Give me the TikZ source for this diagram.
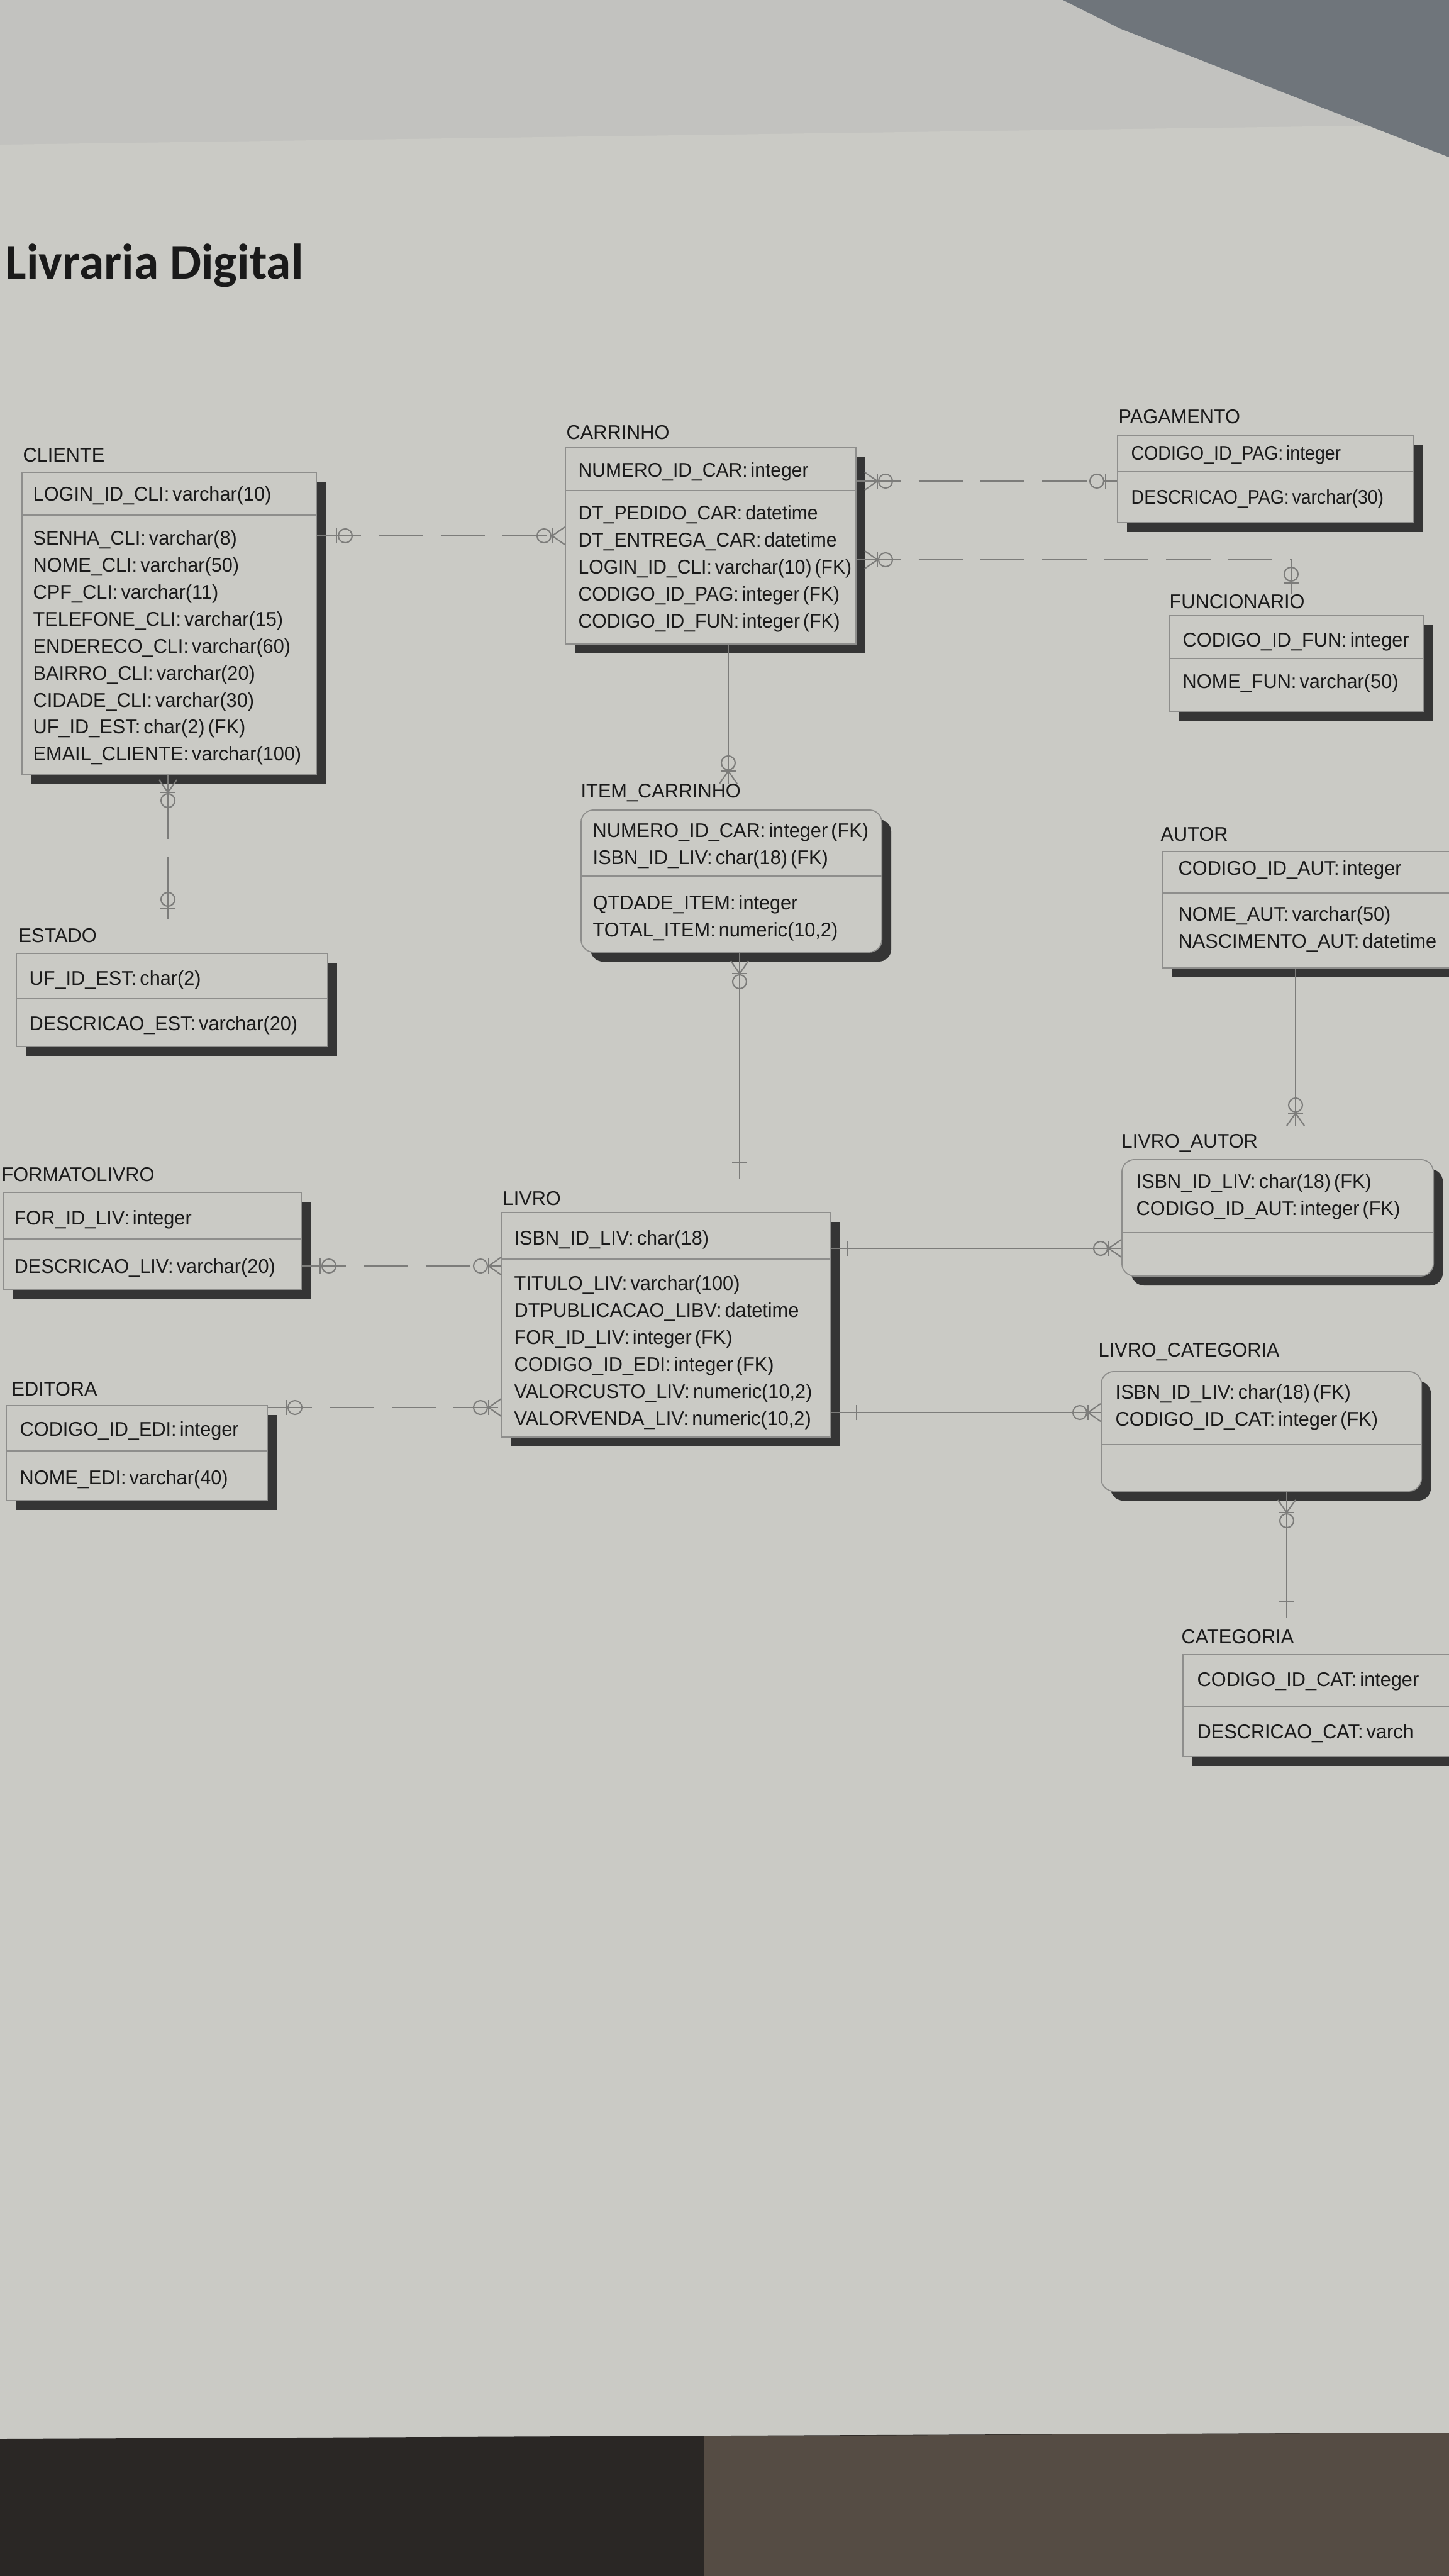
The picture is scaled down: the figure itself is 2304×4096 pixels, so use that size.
\documentclass[tikz,border=0pt]{standalone}
\usepackage{fontspec}
\setmainfont{Liberation Sans}
\newfontfamily\erfont[WordSpace=0.6,FakeStretch=0.97]{Liberation Sans}
\newfontfamily\erfontc[WordSpace=0.6,FakeStretch=0.95]{Liberation Sans}
\newfontfamily\erfontp[WordSpace=0.6,FakeStretch=0.9]{Liberation Sans}
\newfontfamily\titlefont{Carlito}
\usetikzlibrary{shadows}
\definecolor{paper}{HTML}{CACAC5}
\definecolor{wall}{HTML}{C2C2BF}
\definecolor{shd}{HTML}{353535}
\definecolor{edgec}{HTML}{8E8E8C}
\definecolor{ink}{HTML}{1A1A1A}
\definecolor{relc}{HTML}{7C7C7A}
\definecolor{floorA}{HTML}{2A2725}
\definecolor{floorB}{HTML}{554C44}
\definecolor{laptop}{HTML}{6F757B}
\begin{document}
\begin{tikzpicture}[x=0.01cm,y=-0.01cm,
  ebox/.style={draw=edgec, line width=0.5pt, fill=paper, inner sep=0pt, anchor=north west,
    drop shadow={shadow xshift=0.15cm, shadow yshift=-0.15cm, fill=shd, opacity=1}},
  rbox/.style={ebox, rounded corners=0.2cm},
  etxt/.style={inner sep=0pt, anchor=north west, align=left, text=ink, font=\erfont\fontsize{9}{12.2}\selectfont},
  etxtc/.style={etxt, font=\erfontc\fontsize{9}{12.2}\selectfont},
  etxtp/.style={etxt, font=\erfontp\fontsize{9}{12.2}\selectfont},
  sepl/.style={draw=edgec, line width=0.5pt},
  relsolid/.style={draw=relc, line width=0.6pt},
  reldash/.style={relsolid, dash pattern=on 20pt off 8pt},
  sym/.style={draw=relc, line width=0.6pt},
  pics/zmany/.style={code={
    \draw[sym] (0,14) -- (20,0) -- (0,-14);
    \draw[sym] (20,12) -- (20,-12);
    \draw[sym] (33,0) circle[radius=11];
  }},
  pics/zone/.style={code={
    \draw[sym] (18,12) -- (18,-12);
    \draw[sym] (32,0) circle[radius=11];
  }},
  pics/onebar/.style={code={\draw[sym] (#1,12) -- (#1,-12);}}
]
\useasboundingbox (0,0) rectangle (2304,4096);
\clip (0,0) rectangle (2304,4096);
% background: photo of the printed page
\fill[wall] (0,0) rectangle (2304,4096);
\fill[paper] (0,230) -- (2304,198) -- (2304,3868) -- (0,3878) -- cycle;
\fill[laptop] (1690,0) -- (2304,0) -- (2304,250) -- (1780,45) -- cycle;
\fill[floorA] (0,3878) -- (2304,3868) -- (2304,4096) -- (0,4096) -- cycle;
\fill[floorB] (1120,3874) -- (2304,3868) -- (2304,4096) -- (1120,4096) -- cycle;

% title
\node[anchor=base west, inner sep=0pt, text=ink, font=\titlefont\bfseries\fontsize{22.6}{26}\selectfont] (title) at (8,443) {Livraria Digital};

% ---------- CLIENTE
\node[etxt] (cli-l) at (36,712) {CLIENTE};
\node[ebox, minimum width=4.68cm, minimum height=4.80cm] (cli) at (34,750) {};
\draw[sepl] (cli.west |- 0,819) -- (cli.east |- 0,819);
\node[etxt] (cli-pk) at (52,773) {LOGIN\_ID\_CLI: varchar(10)};
\node[etxt] (cli-at) at (52,843) {SENHA\_CLI: varchar(8)\\NOME\_CLI: varchar(50)\\CPF\_CLI: varchar(11)\\TELEFONE\_CLI: varchar(15)\\ENDERECO\_CLI: varchar(60)\\BAIRRO\_CLI: varchar(20)\\CIDADE\_CLI: varchar(30)\\UF\_ID\_EST: char(2) (FK)\\EMAIL\_CLIENTE: varchar(100)};

% ---------- CARRINHO
\node[etxt] (car-l) at (900,676) {CARRINHO};
\node[ebox, minimum width=4.62cm, minimum height=3.13cm] (car) at (898,710) {};
\draw[sepl] (car.west |- 0,780) -- (car.east |- 0,780);
\node[etxtc] (car-pk) at (919,735) {NUMERO\_ID\_CAR: integer};
\node[etxtc] (car-at) at (919,803) {DT\_PEDIDO\_CAR: datetime\\DT\_ENTREGA\_CAR: datetime\\LOGIN\_ID\_CLI: varchar(10) (FK)\\CODIGO\_ID\_PAG: integer (FK)\\CODIGO\_ID\_FUN: integer (FK)};

% ---------- PAGAMENTO
\node[etxt] (pag-l) at (1778,651) {PAGAMENTO};
\node[ebox, minimum width=4.71cm, minimum height=1.38cm] (pag) at (1776,692) {};
\draw[sepl] (pag.west |- 0,750) -- (pag.east |- 0,750);
\node[etxtp] (pag-pk) at (1798,708) {CODIGO\_ID\_PAG: integer};
\node[etxtp] (pag-at) at (1798,778) {DESCRICAO\_PAG: varchar(30)};

% ---------- FUNCIONARIO
\node[etxt] (fun-l) at (1859,945) {FUNCIONARIO};
\node[ebox, minimum width=4.03cm, minimum height=1.52cm] (fun) at (1859,978) {};
\draw[sepl] (fun.west |- 0,1047) -- (fun.east |- 0,1047);
\node[etxt] (fun-pk) at (1880,1005) {CODIGO\_ID\_FUN: integer};
\node[etxt] (fun-at) at (1880,1071) {NOME\_FUN: varchar(50)};

% ---------- ITEM_CARRINHO
\node[etxt] (item-l) at (923,1246) {ITEM\_CARRINHO};
\node[rbox, minimum width=4.78cm, minimum height=2.26cm] (item) at (923,1287) {};
\draw[sepl] (item.west |- 0,1393) -- (item.east |- 0,1393);
\node[etxt] (item-pk) at (942,1308) {NUMERO\_ID\_CAR: integer (FK)\\ISBN\_ID\_LIV: char(18) (FK)};
\node[etxt] (item-at) at (942,1423) {QTDADE\_ITEM: integer\\TOTAL\_ITEM: numeric(10,2)};

% ---------- AUTOR
\node[etxt] (aut-l) at (1845,1315) {AUTOR};
\node[ebox, minimum width=5.13cm, minimum height=1.85cm] (aut) at (1847,1353) {};
\draw[sepl] (aut.west |- 0,1420) -- (aut.east |- 0,1420);
\node[etxt] (aut-pk) at (1873,1368) {CODIGO\_ID\_AUT: integer};
\node[etxt] (aut-at) at (1873,1441) {NOME\_AUT: varchar(50)\\NASCIMENTO\_AUT: datetime};

% ---------- ESTADO
\node[etxt] (est-l) at (29,1476) {ESTADO};
\node[ebox, minimum width=4.95cm, minimum height=1.48cm] (est) at (25,1515) {};
\draw[sepl] (est.west |- 0,1588) -- (est.east |- 0,1588);
\node[etxt] (est-pk) at (46,1543) {UF\_ID\_EST: char(2)};
\node[etxt] (est-at) at (46,1615) {DESCRICAO\_EST: varchar(20)};

% ---------- FORMATOLIVRO
\node[etxt] (fmt-l) at (2,1856) {FORMATOLIVRO};
\node[ebox, minimum width=4.74cm, minimum height=1.54cm] (fmt) at (4,1895) {};
\draw[sepl] (fmt.west |- 0,1970) -- (fmt.east |- 0,1970);
\node[etxt] (fmt-pk) at (22,1924) {FOR\_ID\_LIV: integer};
\node[etxt] (fmt-at) at (22,2001) {DESCRICAO\_LIV: varchar(20)};

% ---------- LIVRO
\node[etxt] (liv-l) at (799,1894) {LIVRO};
\node[ebox, minimum width=5.23cm, minimum height=3.57cm] (liv) at (797,1927) {};
\draw[sepl] (liv.west |- 0,2002) -- (liv.east |- 0,2002);
\node[etxt] (liv-pk) at (817,1956) {ISBN\_ID\_LIV: char(18)};
\node[etxt] (liv-at) at (817,2028) {TITULO\_LIV: varchar(100)\\DTPUBLICACAO\_LIBV: datetime\\FOR\_ID\_LIV: integer (FK)\\CODIGO\_ID\_EDI: integer (FK)\\VALORCUSTO\_LIV: numeric(10,2)\\VALORVENDA\_LIV: numeric(10,2)};

% ---------- EDITORA
\node[etxt] (edi-l) at (18,2197) {EDITORA};
\node[ebox, minimum width=4.15cm, minimum height=1.51cm] (edi) at (9,2234) {};
\draw[sepl] (edi.west |- 0,2307) -- (edi.east |- 0,2307);
\node[etxt] (edi-pk) at (31,2260) {CODIGO\_ID\_EDI: integer};
\node[etxt] (edi-at) at (31,2337) {NOME\_EDI: varchar(40)};

% ---------- LIVRO_AUTOR
\node[etxt] (la-l) at (1783,1803) {LIVRO\_AUTOR};
\node[rbox, minimum width=4.95cm, minimum height=1.85cm] (la) at (1783,1843) {};
\draw[sepl] (la.west |- 0,1960) -- (la.east |- 0,1960);
\node[etxt] (la-pk) at (1806,1866) {ISBN\_ID\_LIV: char(18) (FK)\\CODIGO\_ID\_AUT: integer (FK)};

% ---------- LIVRO_CATEGORIA
\node[etxt] (lc-l) at (1746,2135) {LIVRO\_CATEGORIA};
\node[rbox, minimum width=5.09cm, minimum height=1.90cm] (lc) at (1750,2180) {};
\draw[sepl] (lc.west |- 0,2297) -- (lc.east |- 0,2297);
\node[etxt] (lc-pk) at (1773,2201) {ISBN\_ID\_LIV: char(18) (FK)\\CODIGO\_ID\_CAT: integer (FK)};

% ---------- CATEGORIA
\node[etxt] (cat-l) at (1878,2591) {CATEGORIA};
\node[ebox, minimum width=4.80cm, minimum height=1.62cm] (cat) at (1880,2630) {};
\draw[sepl] (cat.west |- 0,2713) -- (cat.east |- 0,2713);
\node[etxt] (cat-pk) at (1903,2658) {CODIGO\_ID\_CAT: integer};
\node[etxt] (cat-at) at (1903,2741) {DESCRICAO\_CAT: varch};

% ================= connectors
% CLIENTE - CARRINHO
\draw[reldash] (cli.east |- 0,852) -- (car.west |- 0,852);
\pic at (517,852) {zone};
\pic[rotate=180] at (898,852) {zmany};
% CARRINHO - PAGAMENTO
\draw[reldash] (car.east |- 0,765) -- (pag.west |- 0,765);
\pic at (1375,765) {zmany};
\pic[rotate=180] at (1776,765) {zone};
% CARRINHO - FUNCIONARIO
\coordinate (funC) at (2053,890);
\draw[reldash] (car.east |- funC) -- (funC) -- (fun-l.north -| funC);
\pic at (1375,890) {zmany};
\pic[rotate=90] at (fun-l.north -| funC) {zone};
% CARRINHO - ITEM_CARRINHO
\coordinate (itC) at (1158,1100);
\draw[relsolid] (car.south -| itC) -- (item-l.north -| itC);
\pic[rotate=90] at (item-l.north -| itC) {zmany};
% ITEM_CARRINHO - LIVRO
\coordinate (livT) at (1176,1874);
\draw[relsolid] (item.south -| livT) -- (livT);
\pic[rotate=-90] at (1176,1528) {zmany};
\pic[rotate=90] at (livT) {onebar=26};
% AUTOR - LIVRO_AUTOR
\coordinate (laT) at (2060,1790);
\draw[relsolid] (aut.south -| laT) -- (laT);
\pic[rotate=90] at (laT) {zmany};
% LIVRO - LIVRO_AUTOR
\draw[relsolid] (liv.east |- 0,1985) -- (la.west |- 0,1985);
\pic at (1335,1985) {onebar=13};
\pic[rotate=180] at (1783,1985) {zmany};
% LIVRO - LIVRO_CATEGORIA
\draw[relsolid] (liv.east |- 0,2246) -- (lc.west |- 0,2246);
\pic at (1335,2246) {onebar=27};
\pic[rotate=180] at (1750,2246) {zmany};
% LIVRO_CATEGORIA - CATEGORIA
\coordinate (catT) at (2046,2572);
\draw[relsolid] (lc.south -| catT) -- (catT);
\pic[rotate=-90] at (2046,2385) {zmany};
\pic[rotate=90] at (catT) {onebar=25};
% FORMATOLIVRO - LIVRO
\draw[reldash] (fmt.east |- 0,2013) -- (liv.west |- 0,2013);
\pic at (491,2013) {zone};
\pic[rotate=180] at (797,2013) {zmany};
% EDITORA - LIVRO
\draw[reldash] (edi.east |- 0,2238) -- (liv.west |- 0,2238);
\pic at (437,2238) {zone};
\pic[rotate=180] at (797,2238) {zmany};
% CLIENTE - ESTADO
\coordinate (estT) at (267,1462);
\draw[relsolid, dash pattern=on 29pt off 8pt] (cli.south -| estT) -- (estT);
\pic[rotate=-90] at (267,1240) {zmany};
\pic[rotate=90] at (estT) {zone};
\end{tikzpicture}
\end{document}
